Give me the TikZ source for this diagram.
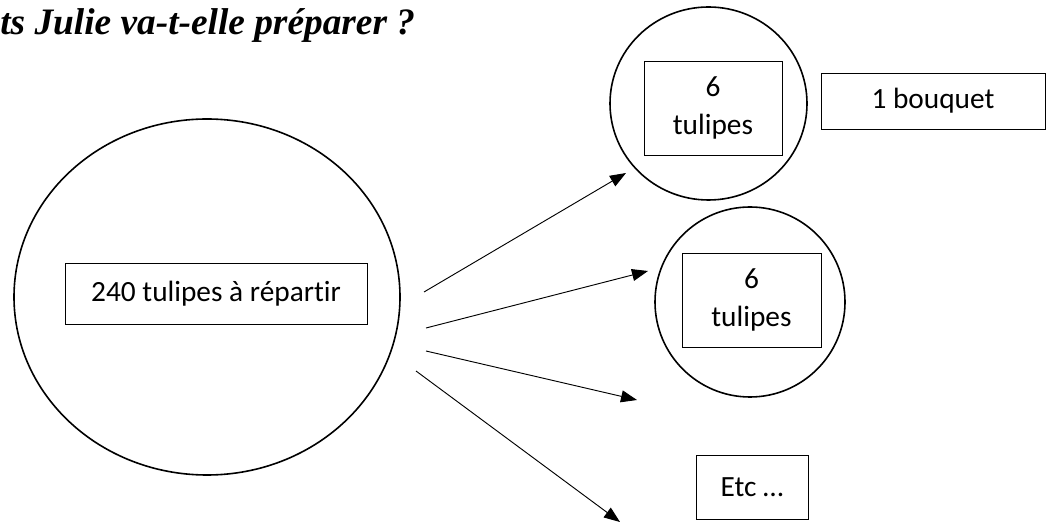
\documentclass[tikz,border=0pt]{standalone}
\usepackage{fontspec}
\setmainfont[Ligatures=NoCommon]{Carlito}
\newfontfamily\titlefont{Liberation Serif}
\usepackage{tikz}
\usetikzlibrary{arrows.meta,shapes.geometric}

\begin{document}
\begin{tikzpicture}[x=0.75pt,y=-0.75pt,
  ring/.style={ellipse,draw,line width=1.2pt,inner sep=0pt},
  box/.style={rectangle,draw,line width=0.6pt,align=center,font=\fontsize{22}{29}\selectfont},
  link/.style={-{Triangle[length=12pt,width=9pt]},line width=0.7pt}]
\useasboundingbox (0,0) rectangle (1053,523);
\node [anchor=base west,inner sep=0pt,font=\titlefont\fontsize{28}{30}\selectfont\bfseries\itshape] (title) at (0,35) {ts Julie va-t-elle préparer ?};
\node [ring,minimum width=289.5pt,minimum height=267pt] (all) at (207,297) {};
\node [box,minimum width=226.5pt,minimum height=45.75pt] (stock) at (216,293.5) {240 tulipes à répartir};
\node [ring,minimum width=147.75pt,minimum height=144.75pt] (c1) at (708.5,103.5) {};
\node [box,minimum width=103.5pt,minimum height=70.5pt] (b1) at (713,108) {6\\tulipes};
\node [box,minimum width=168pt,minimum height=42pt] (bq) at (933,101) {1 bouquet};
\node [ring,minimum width=142.5pt,minimum height=142.5pt] (c2) at (750,302) {};
\node [box,minimum width=104.25pt,minimum height=70.5pt] (b2) at (751.5,300) {6\\tulipes};
\node [box,minimum width=84pt,minimum height=48pt] (etc) at (752,487) {Etc …};
% arrows
\coordinate (s1) at (424,292);
\coordinate (s2) at (426,328);
\coordinate (s3) at (426,351);
\coordinate (s4) at (416,371);
\coordinate (e1) at (626,173);
\coordinate (e2) at (648,271);
\coordinate (e3) at (637,400);
\coordinate (e4) at (620,522);
\draw [link] (s1) -- (e1);
\draw [link] (s2) -- (e2);
\draw [link] (s3) -- (e3);
\draw [link] (s4) -- (e4);
\end{tikzpicture}
\end{document}
